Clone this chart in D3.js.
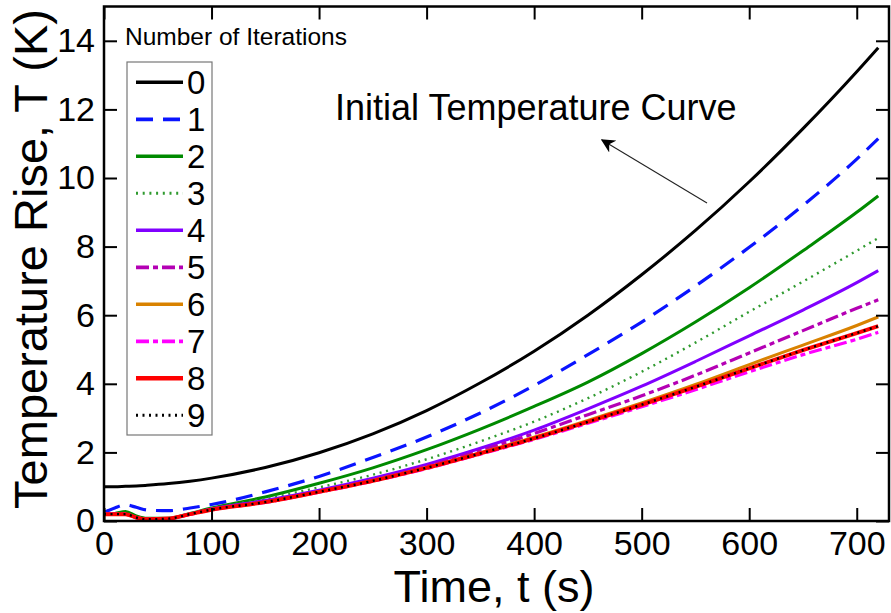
<!DOCTYPE html>
<html><head><meta charset="utf-8">
<script src="https://cdn.jsdelivr.net/npm/d3@7"></script>
<style>
html,body{margin:0;padding:0;background:#fff;}
svg text{font-family:"Liberation Sans",Arial,sans-serif;fill:#000;}
</style></head>
<body><svg id="c" width="891" height="613"></svg>
<script>
const times = [0,10,20,30,40,60,80,100,150,200,250,300,350,400,450,500,550,600,650,700,720];
const iter0 = [1.0,1.0,1.01,1.02,1.04,1.09,1.16,1.25,1.56,1.99,2.54,3.22,4.03,4.95,6.0,7.18,8.47,9.89,11.44,13.1,13.8];
const iter1 = [0.25,0.38,0.47,0.4,0.32,0.3,0.38,0.48,0.85,1.3,1.85,2.45,3.15,3.95,4.85,5.8,6.85,7.98,9.2,10.55,11.15];
const iter2 = [0.2,0.22,0.28,0.15,0.08,0.08,0.22,0.38,0.7,1.1,1.55,2.08,2.68,3.34,4.05,4.88,5.8,6.8,7.88,9.0,9.48];
const iter3 = [0.2,0.2,0.22,0.12,0.06,0.07,0.2,0.36,0.65,0.98,1.35,1.8,2.32,2.9,3.58,4.35,5.2,6.1,6.98,7.88,8.25];
const iter4 = [0.2,0.2,0.2,0.1,0.05,0.07,0.2,0.35,0.6,0.9,1.25,1.65,2.12,2.65,3.27,3.93,4.65,5.4,6.15,6.95,7.3];
const iter5 = [0.2,0.2,0.2,0.1,0.05,0.07,0.2,0.34,0.57,0.86,1.2,1.6,2.05,2.55,3.1,3.65,4.25,4.9,5.55,6.2,6.45];
const iter6 = [0.2,0.2,0.2,0.1,0.05,0.07,0.2,0.33,0.55,0.85,1.18,1.56,1.99,2.44,2.93,3.44,3.98,4.56,5.13,5.7,5.95];
const iter7 = [0.2,0.2,0.2,0.1,0.05,0.07,0.2,0.33,0.54,0.84,1.16,1.53,1.95,2.38,2.85,3.33,3.83,4.35,4.85,5.3,5.5];
const iter8 = [0.2,0.2,0.2,0.1,0.05,0.07,0.2,0.33,0.55,0.85,1.17,1.55,1.97,2.41,2.89,3.39,3.91,4.45,4.98,5.48,5.68];
const iter9 = [0.2,0.2,0.2,0.1,0.05,0.07,0.2,0.33,0.55,0.85,1.17,1.55,1.97,2.41,2.89,3.39,3.91,4.45,4.98,5.48,5.68];
const seriesNames = ["0","1","2","3","4","5","6","7","8","9"];
const xTicks = [0,100,200,300,400,500,600,700];
const yTicks = [0,2,4,6,8,10,12,14];

const styles = [
  {color:"#000000", w:3, dash:null},
  {color:"#0a14ff", w:3.2, dash:"17,10"},
  {color:"#008a00", w:3, dash:null},
  {color:"#2f9a2f", w:2.4, dash:"2,4.7"},
  {color:"#8000ff", w:3, dash:null},
  {color:"#b400b4", w:3.2, dash:"13,4,5,4"},
  {color:"#d98200", w:3, dash:null},
  {color:"#ff00ff", w:3.2, dash:"13,4,5,4"},
  {color:"#ff0000", w:4, dash:null},
  {color:"#000000", w:2.4, dash:"2,4.5"}
];
const allSeries = [iter0,iter1,iter2,iter3,iter4,iter5,iter6,iter7,iter8,iter9];

const svg = d3.select("#c");
const x = d3.scaleLinear().domain([0,730]).range([104,889]);
const y = d3.scaleLinear().domain([0,15]).range([521,6.5]);

// curves
const line = d3.line().x(d=>x(d[0])).y(d=>y(d[1])).curve(d3.curveMonotoneX);
allSeries.forEach((vals,i)=>{
  const st = styles[i];
  svg.append("path")
    .datum(times.map((t,k)=>[t,vals[k]]))
    .attr("d", line)
    .attr("fill","none")
    .attr("stroke", st.color)
    .attr("stroke-width", st.w)
    .attr("stroke-dasharray", st.dash);
});

// axes (ticks inward, mirrored)
const tl = 13;
const fmt = d3.format("d");
const gB = svg.append("g").attr("transform","translate(0,521)")
  .call(d3.axisBottom(x).tickValues(xTicks).tickSize(-tl).tickPadding(10).tickFormat(fmt));
const gT = svg.append("g").attr("transform","translate(0,6.5)")
  .call(d3.axisTop(x).tickValues(xTicks).tickSize(-tl).tickFormat(""));
const gL = svg.append("g").attr("transform","translate(104,0)")
  .call(d3.axisLeft(y).tickValues(yTicks).tickSize(-tl).tickPadding(9).tickFormat(fmt));
const gR = svg.append("g").attr("transform","translate(889,0)")
  .call(d3.axisRight(y).tickValues(yTicks).tickSize(-tl).tickFormat(""));
[gB,gT,gL,gR].forEach(g=>{
  g.select(".domain").remove();
  g.selectAll(".tick line").attr("stroke","#000").attr("stroke-width",2);
});
gB.selectAll("text").attr("font-size",34).attr("font-family","Liberation Sans, Arial, sans-serif").attr("fill","#000");
gL.selectAll("text").attr("font-size",34).attr("font-family","Liberation Sans, Arial, sans-serif").attr("fill","#000");

svg.append("rect").attr("x",104).attr("y",6.5).attr("width",785).attr("height",514.5)
  .attr("fill","none").attr("stroke","#000").attr("stroke-width",2.5);

// axis titles
svg.append("text").attr("x",494).attr("y",602).attr("text-anchor","middle")
  .attr("font-size",45).text("Time, t (s)");
svg.append("text").attr("transform","translate(47,259) rotate(-90)").attr("text-anchor","middle")
  .attr("font-size",47).text("Temperature Rise, T (K)");

// annotation
svg.append("text").attr("x",335).attr("y",120).attr("font-size",36).text("Initial Temperature Curve");
svg.append("defs").append("marker").attr("id","ah").attr("viewBox","0 0 10 10")
  .attr("refX",9).attr("refY",5).attr("markerWidth",14).attr("markerHeight",14).attr("markerUnits","userSpaceOnUse")
  .attr("orient","auto").append("path").attr("d","M0,0 L10,5 L0,10 L3,5 Z").attr("fill","#000");
svg.append("line").attr("x1",707).attr("y1",203).attr("x2",602).attr("y2",140)
  .attr("stroke","#222").attr("stroke-width",1.1).attr("marker-end","url(#ah)");

// legend
svg.append("text").attr("x",125).attr("y",45).attr("font-size",24.5).text("Number of Iterations");
svg.append("rect").attr("x",127).attr("y",62).attr("width",85).attr("height",373)
  .attr("fill","#fff").attr("stroke","#777").attr("stroke-width",1.2);
seriesNames.forEach((n,i)=>{
  const ly = 82.3 + i*37;
  const st = styles[i];
  svg.append("line").attr("x1",136).attr("x2",183).attr("y1",ly).attr("y2",ly)
    .attr("stroke",st.color).attr("stroke-width",st.w+0.5).attr("stroke-dasharray",st.dash);
  svg.append("text").attr("x",187).attr("y",ly+12).attr("font-size",33).text(n);
});
</script></body></html>
